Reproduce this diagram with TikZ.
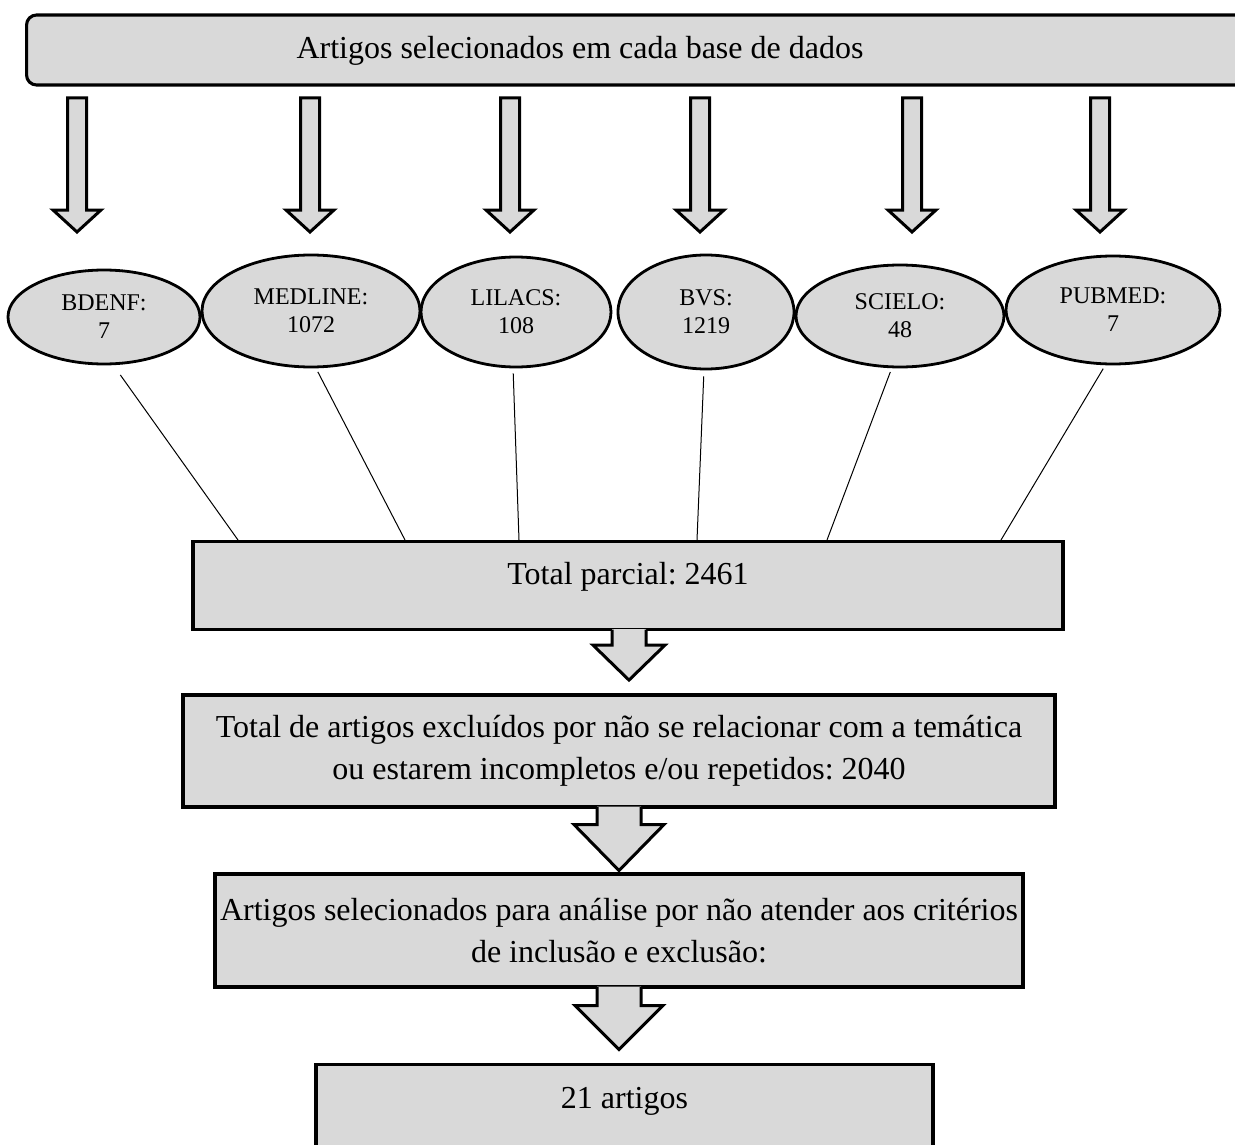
\documentclass[tikz,border=0pt]{standalone}
\usepackage{fontspec}
\setmainfont{Liberation Serif}
\usetikzlibrary{shapes.geometric}

\definecolor{boxgray}{HTML}{D9D9D9}
\frenchspacing

\tikzset{
  stage/.style = {draw, fill = boxgray, line width = 3.1pt, inner sep = 0pt,
    align = center, font = \fontsize{32}{42}\selectfont},
  db/.style = {ellipse, draw, fill = boxgray, line width = 2.8pt, inner sep = 0pt,
    align = center, font = \fontsize{24}{28}\selectfont},
  link/.style = {line width = 1pt},
  arrowbody/.style = {fill = boxgray},
  arrowline/.style = {draw, line width = 3pt, miter limit = 20},
}

\begin{document}
\begin{tikzpicture}[x = 1pt, y = -1pt]
\useasboundingbox (0, 0) rectangle (1235, 1145);

% banner at the top
\node[stage, rounded corners = 10pt, anchor = west, minimum width = 1240pt, minimum height = 70pt] (sources) at (25, 50) {};
\node[anchor = base, font = \fontsize{32}{42}\selectfont] (title) at (580, 59) {Artigos selecionados em cada base de dados};

% arrows down to the databases
\draw[arrowbody, arrowline] (67.5, 98) -- ++(19, 0) -- ++(0, 112) -- ++(14.5, 0) -- ++(-24, 22) -- ++(-24, -22) -- ++(14.5, 0) -- cycle;
\draw[arrowbody, arrowline] (300.5, 98) -- ++(19, 0) -- ++(0, 112) -- ++(14.5, 0) -- ++(-24, 22) -- ++(-24, -22) -- ++(14.5, 0) -- cycle;
\draw[arrowbody, arrowline] (500.5, 98) -- ++(19, 0) -- ++(0, 112) -- ++(14.5, 0) -- ++(-24, 22) -- ++(-24, -22) -- ++(14.5, 0) -- cycle;
\draw[arrowbody, arrowline] (690.5, 98) -- ++(19, 0) -- ++(0, 112) -- ++(14.5, 0) -- ++(-24, 22) -- ++(-24, -22) -- ++(14.5, 0) -- cycle;
\draw[arrowbody, arrowline] (902.5, 98) -- ++(19, 0) -- ++(0, 112) -- ++(14.5, 0) -- ++(-24, 22) -- ++(-24, -22) -- ++(14.5, 0) -- cycle;
\draw[arrowbody, arrowline] (1090.5, 98) -- ++(19, 0) -- ++(0, 112) -- ++(14.5, 0) -- ++(-24, 22) -- ++(-24, -22) -- ++(14.5, 0) -- cycle;

% databases
\node[db, minimum width = 192pt, minimum height = 94pt] (bdenf) at (104, 317) {BDENF:\\7};
\node[db, minimum width = 218pt, minimum height = 112pt] (medline) at (311, 311) {MEDLINE:\\1072};
\node[db, minimum width = 190pt, minimum height = 110pt] (lilacs) at (516, 312) {LILACS:\\108};
\node[db, minimum width = 176pt, minimum height = 114pt] (bvs) at (706, 312) {BVS:\\1219};
\node[db, minimum width = 208pt, minimum height = 102pt] (scielo) at (900, 316) {SCIELO:\\48};
\node[db, minimum width = 214pt, minimum height = 108pt] (pubmed) at (1113, 310) {PUBMED:\\7};

% stages
\node[stage, anchor = north, minimum width = 870pt, text height = 43pt, text depth = 45pt] (partial) at (628, 540) {Total parcial: 2461};
\node[stage, minimum width = 872pt, minimum height = 112pt] (excluded) at (619, 751) {Total de artigos excluídos por não se relacionar com a temática\\ou estarem incompletos e/ou repetidos: 2040};
\node[stage, minimum width = 808pt, minimum height = 113pt] (selected) at (619, 930.5) {Artigos selecionados para análise por não atender aos critérios\\de inclusão e exclusão:};
\node[stage, anchor = north, minimum width = 617pt, text height = 44pt, text depth = 50pt] (final) at (624.5, 1063) {21 artigos};

% lines into the partial total
\coordinate (in1) at (238, 540);
\coordinate (in2) at (405, 540);
\coordinate (in3) at (519, 540);
\coordinate (in4) at (697, 540);
\coordinate (in5) at (827, 540);
\coordinate (in6) at (1001, 540);
\draw[link, shorten <= 12pt] (bdenf.-79) -- (in1);
\draw[link, shorten <= 4pt] (medline.-85) -- (in2);
\draw[link, shorten <= 5pt] (lilacs.-93) -- (in3);
\draw[link, shorten <= 6pt] (bvs.-92) -- (in4);
\draw[link, shorten <= 4pt] (scielo.-99) -- (in5);
\draw[link, shorten <= 4pt] (pubmed.-98) -- (in6);

% arrows between the stages
\fill[arrowbody] (partial.south) ++(-16, -2) -- ++(0, 16) -- ++(-19, 0) -- ++(36, 35) -- ++(36, -35) -- ++(-19, 0) -- ++(0, -16) -- cycle;
\draw[arrowline] (partial.south) ++(-16, -1.5) -- ++(0, 15.5) -- ++(-19, 0) -- ++(36, 35) -- ++(36, -35) -- ++(-19, 0) -- ++(0, -15.5);
\fill[arrowbody] (excluded.south) ++(-22, -2) -- ++(0, 18) -- ++(-23, 0) -- ++(45, 46) -- ++(45, -46) -- ++(-23, 0) -- ++(0, -18) -- cycle;
\draw[arrowline] (excluded.south) ++(-22, -1.5) -- ++(0, 17.5) -- ++(-23, 0) -- ++(45, 46) -- ++(45, -46) -- ++(-23, 0) -- ++(0, -17.5);
\fill[arrowbody] (selected.south) ++(-22, -2) -- ++(0, 19) -- ++(-22, 0) -- ++(44, 44) -- ++(44, -44) -- ++(-22, 0) -- ++(0, -19) -- cycle;
\draw[arrowline] (selected.south) ++(-22, -1.5) -- ++(0, 18.5) -- ++(-22, 0) -- ++(44, 44) -- ++(44, -44) -- ++(-22, 0) -- ++(0, -18.5);
\end{tikzpicture}
\end{document}
